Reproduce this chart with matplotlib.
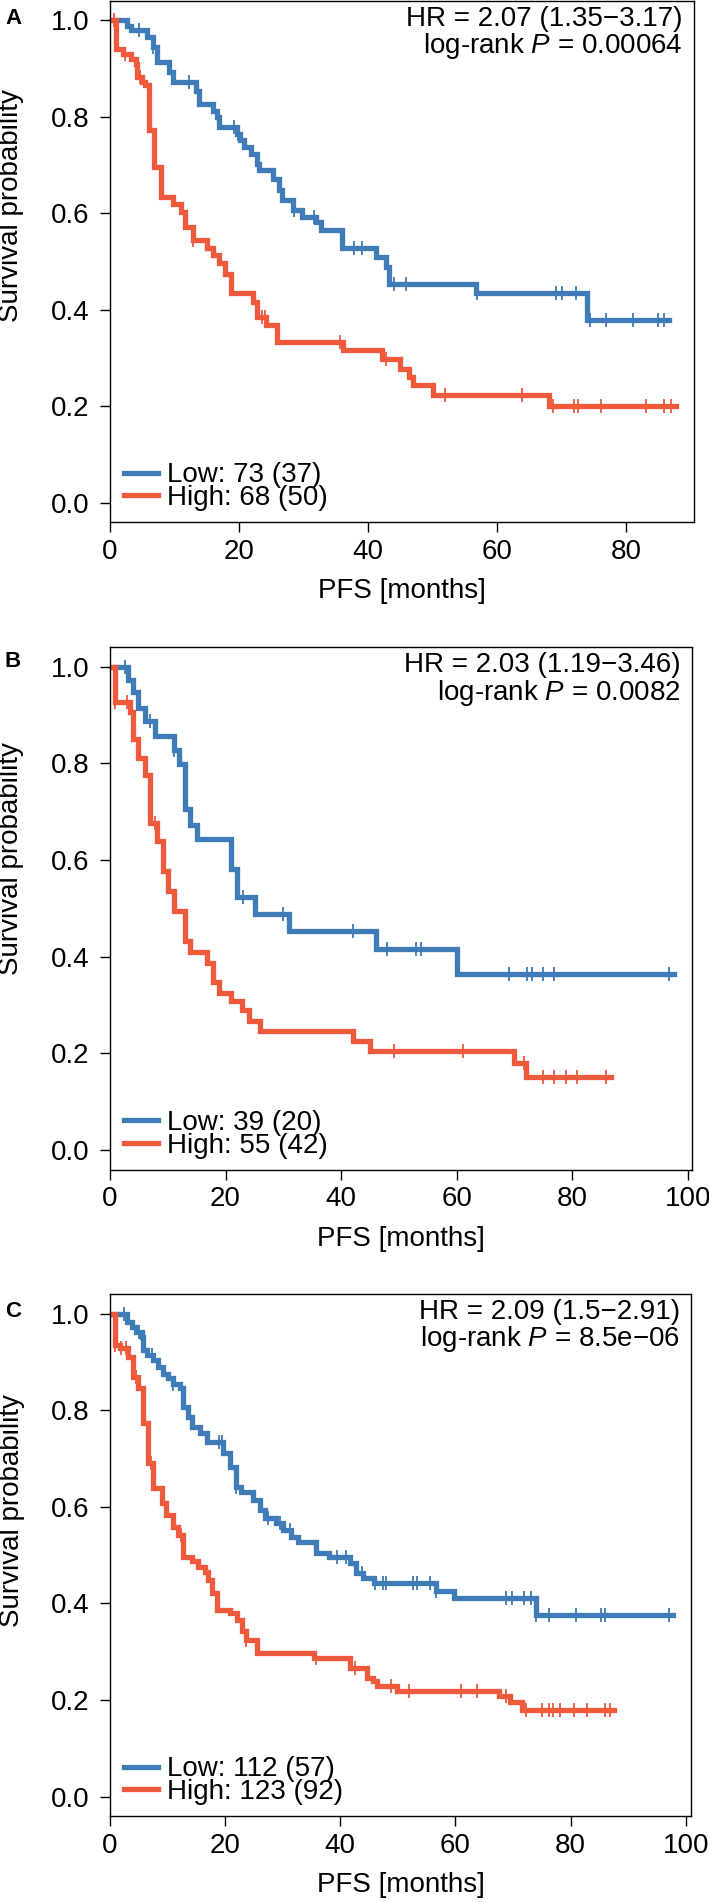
import numpy as np
import matplotlib
matplotlib.use("Agg")
import matplotlib.pyplot as plt

plt.rcParams["font.family"] = "Liberation Sans"
plt.rcParams["mathtext.fontset"] = "custom"
plt.rcParams["mathtext.rm"] = "Liberation Sans"
plt.rcParams["mathtext.it"] = "Liberation Sans:italic"

BLUE = "#3F7BB6"
RED = "#EE5A3B"

# ---- panel A ----
a_low_t = [2.7, 3.2, 5.8, 6.6, 7.3, 9.1, 9.7, 13.3, 13.8, 15.9, 16.6, 16.9, 19.7, 20.2,
           20.8, 21.8, 22.8, 23.1, 25.2, 26.2, 26.7, 28.3, 29.8, 31.9, 32.7, 36.0, 41.2,
           42.7, 43.3, 56.7, 73.9]
a_low_s = [0.989, 0.979, 0.965, 0.945, 0.913, 0.892, 0.872, 0.854, 0.827, 0.813, 0.800,
           0.778, 0.765, 0.751, 0.737, 0.723, 0.703, 0.689, 0.672, 0.648, 0.627, 0.606,
           0.592, 0.582, 0.565, 0.527, 0.509, 0.489, 0.454, 0.434, 0.378]
a_low_c = [4.5, 6.7, 12.3, 19.2, 19.8, 28.5, 31.6, 37.8, 39.1, 44.0, 45.9, 56.9, 69.1,
           70.1, 72.2, 74.4, 76.9, 81.0, 85.0, 85.8]
a_low_end = 86.6

a_high_t = [0.9, 2.0, 3.2, 4.0, 4.2, 5.0, 5.5, 6.0, 6.8, 7.9, 9.7, 11.0, 11.7, 12.8, 15.1,
            16.0, 16.9, 17.9, 18.7, 22.1, 22.8, 24.2, 25.9, 36.1, 42.1, 44.9, 46.3, 47.0,
            50.1, 68.0]
a_high_s = [0.941, 0.931, 0.920, 0.910, 0.882, 0.872, 0.865, 0.772, 0.696, 0.634, 0.620,
            0.603, 0.572, 0.544, 0.527, 0.513, 0.496, 0.475, 0.434, 0.416, 0.385, 0.368,
            0.333, 0.316, 0.297, 0.278, 0.261, 0.244, 0.223, 0.200]
a_high_c = [0.6, 2.3, 4.7, 12.8, 23.5, 24.0, 35.7, 42.8, 51.9, 63.8, 68.7, 71.9, 72.6,
            76.1, 83.1, 85.9, 87.0]
a_high_end = 87.7

# ---- panel B ----
b_low_t = [3.2, 4.0, 4.9, 6.1, 7.8, 11.0, 12.0, 12.9, 13.8, 15.0, 21.0, 21.9, 25.1,
           30.9, 46.1, 60.1]
b_low_s = [0.972, 0.947, 0.915, 0.887, 0.857, 0.828, 0.799, 0.706, 0.673, 0.644, 0.582,
           0.523, 0.489, 0.454, 0.416, 0.364]
b_low_c = [2.6, 7.0, 11.0, 23.1, 30.0, 42.1, 47.9, 52.9, 53.9, 69.1, 72.2, 73.0, 74.9,
           76.9, 96.8]
b_low_end = 97.6

b_high_t = [0.9, 3.5, 4.0, 4.9, 6.1, 6.9, 8.1, 9.2, 10.1, 11.0, 13.0, 13.8, 16.8, 17.8,
            18.9, 20.9, 22.9, 24.0, 26.0, 42.0, 45.0, 69.9, 71.9]
b_high_s = [0.926, 0.907, 0.850, 0.812, 0.775, 0.676, 0.639, 0.577, 0.535, 0.495, 0.432,
            0.409, 0.388, 0.347, 0.326, 0.308, 0.289, 0.268, 0.247, 0.225, 0.206, 0.180,
            0.152]
b_high_c = [0.9, 2.9, 7.8, 49.1, 61.0, 71.6, 74.9, 76.9, 78.9, 80.8, 85.9]
b_high_end = 86.7

# ---- panel C ----
c_low_t = [2.9, 3.8, 4.6, 5.5, 5.8, 6.4, 7.5, 8.4, 9.2, 10.1, 11.0, 12.1, 12.7, 13.6,
           14.2, 15.6, 16.8, 19.6, 20.8, 21.9, 22.8, 24.8, 26.0, 26.9, 28.9, 30.0, 31.5,
           32.6, 35.8, 38.1, 41.6, 42.8, 43.9, 45.9, 56.7, 59.8, 73.9]
c_low_s = [0.983, 0.972, 0.962, 0.952, 0.924, 0.914, 0.904, 0.890, 0.876, 0.866, 0.855,
           0.845, 0.807, 0.786, 0.766, 0.752, 0.735, 0.711, 0.683, 0.642, 0.631, 0.614,
           0.594, 0.576, 0.566, 0.552, 0.538, 0.528, 0.504, 0.497, 0.483, 0.463, 0.452,
           0.442, 0.425, 0.411, 0.377]
c_low_c = [2.5, 5.0, 7.3, 11.0, 19.0, 19.5, 21.9, 27.5, 29.5, 31.3, 39.5, 41.0, 43.7,
           46.0, 47.4, 48.0, 52.6, 53.4, 55.5, 56.7, 68.8, 69.9, 71.9, 73.1, 74.0, 76.2,
           80.9, 85.2, 86.0, 97.0]
c_low_end = 97.8

c_high_t = [0.9, 1.7, 3.2, 4.0, 4.9, 5.8, 6.6, 7.5, 9.0, 9.8, 11.0, 11.9, 12.7, 14.2,
            15.3, 16.5, 17.0, 17.8, 18.6, 20.9, 22.1, 22.9, 23.7, 25.6, 35.4, 41.7, 44.6,
            45.6, 46.4, 49.9, 67.6, 69.5, 71.5]
c_high_s = [0.934, 0.928, 0.910, 0.869, 0.845, 0.773, 0.690, 0.638, 0.607, 0.583, 0.559,
            0.542, 0.497, 0.487, 0.476, 0.466, 0.449, 0.421, 0.387, 0.380, 0.366, 0.342,
            0.325, 0.298, 0.287, 0.267, 0.246, 0.239, 0.229, 0.218, 0.208, 0.195, 0.180]
c_high_c = [0.9, 2.0, 2.8, 4.5, 7.1, 12.4, 23.7, 35.8, 42.5, 48.8, 51.9, 60.9, 63.7, 68.8,
            72.3, 75.0, 76.2, 77.0, 78.2, 80.5, 82.9, 86.0, 86.8]
c_high_end = 87.6

panel_letters = ["A", "B", "C"]
low_labels = ["Low: 73 (37)", "Low: 39 (20)", "Low: 112 (57)"]
high_labels = ["High: 68 (50)", "High: 55 (42)", "High: 123 (92)"]
hr_text = ["HR = 2.07 (1.35\u22123.17)", "HR = 2.03 (1.19\u22123.46)",
           "HR = 2.09 (1.5\u22122.91)"]
p_text = ["0.00064", "0.0082", "8.5e\u221206"]
x_max = [90.5, 100.7, 100.9]
x_ticks = [[0, 20, 40, 60, 80], [0, 20, 40, 60, 80, 100], [0, 20, 40, 60, 80, 100]]

curves = [
    ((a_low_t, a_low_s, a_low_c, a_low_end), (a_high_t, a_high_s, a_high_c, a_high_end)),
    ((b_low_t, b_low_s, b_low_c, b_low_end), (b_high_t, b_high_s, b_high_c, b_high_end)),
    ((c_low_t, c_low_s, c_low_c, c_low_end), (c_high_t, c_high_s, c_high_c, c_high_end)),
]

fig = plt.figure(figsize=(7.09, 19.02), dpi=100)
rects = [[0.1551, 0.72555, 0.8237, 0.27392],
         [0.1551, 0.38512, 0.8209, 0.27455],
         [0.1551, 0.04522, 0.8195, 0.27429]]
letter_y = [1 - 24 / 1902, 1 - 667 / 1902, 1 - 1317 / 1902]
ylab_y = [0.6065, 0.595, 0.585]


def km(ax, t, s, c, end, color):
    tt = np.r_[0, t, end]
    ss = np.r_[1.0, s, s[-1]]
    line, = ax.step(tt, ss, where="post", color=color, lw=3.8, solid_joinstyle="miter")
    lev = np.r_[1.0, s]
    cy = lev[np.searchsorted(t, c, side="right")]
    ax.plot(c, cy, ls="none", marker="|", ms=10, mew=1.3, color=color)
    return line


for i, ax_rect in enumerate(rects):
    ax = fig.add_axes(ax_rect)
    low, high = curves[i]
    h1 = km(ax, *low, BLUE)
    h2 = km(ax, *high, RED)
    ax.set_xlim(0, x_max[i])
    ax.set_ylim(-0.04, 1.04)
    ax.set_xticks(x_ticks[i])
    ax.set_yticks([0, 0.2, 0.4, 0.6, 0.8, 1.0])
    ax.set_yticklabels(["0.0", "0.2", "0.4", "0.6", "0.8", "1.0"])
    ax.tick_params(labelsize=20, length=7.2, width=1.0)
    ax.tick_params(axis="y", pad=7.5)
    ax.tick_params(axis="x", pad=5)
    for sp in ax.spines.values():
        sp.set_linewidth(1.0)
    ax.set_ylabel("Survival probability", fontsize=20)
    ax.yaxis.set_label_coords(-0.147, ylab_y[i])
    ax.set_xlabel("PFS [months]", fontsize=20)
    ax.xaxis.set_label_coords(0.5, -0.108)

    ax.legend([h1, h2], [low_labels[i], high_labels[i]], loc="lower left",
              bbox_to_anchor=(0.024, 0.021), frameon=False, fontsize=20,
              handlelength=1.23, handletextpad=0.33, labelspacing=-0.12,
              borderpad=0, borderaxespad=0)

    ax.text(0.981, 0.952, hr_text[i], transform=ax.transAxes, ha="right",
            va="baseline", fontsize=20)
    ax.text(0.981, 0.900, "log-rank $\\mathit{P}$ = " + p_text[i], transform=ax.transAxes,
            ha="right", va="baseline", fontsize=20)

    fig.text(5 / 709, letter_y[i], panel_letters[i], fontsize=16, fontweight="bold",
             va="baseline")

fig.savefig("out.png", dpi=100)
